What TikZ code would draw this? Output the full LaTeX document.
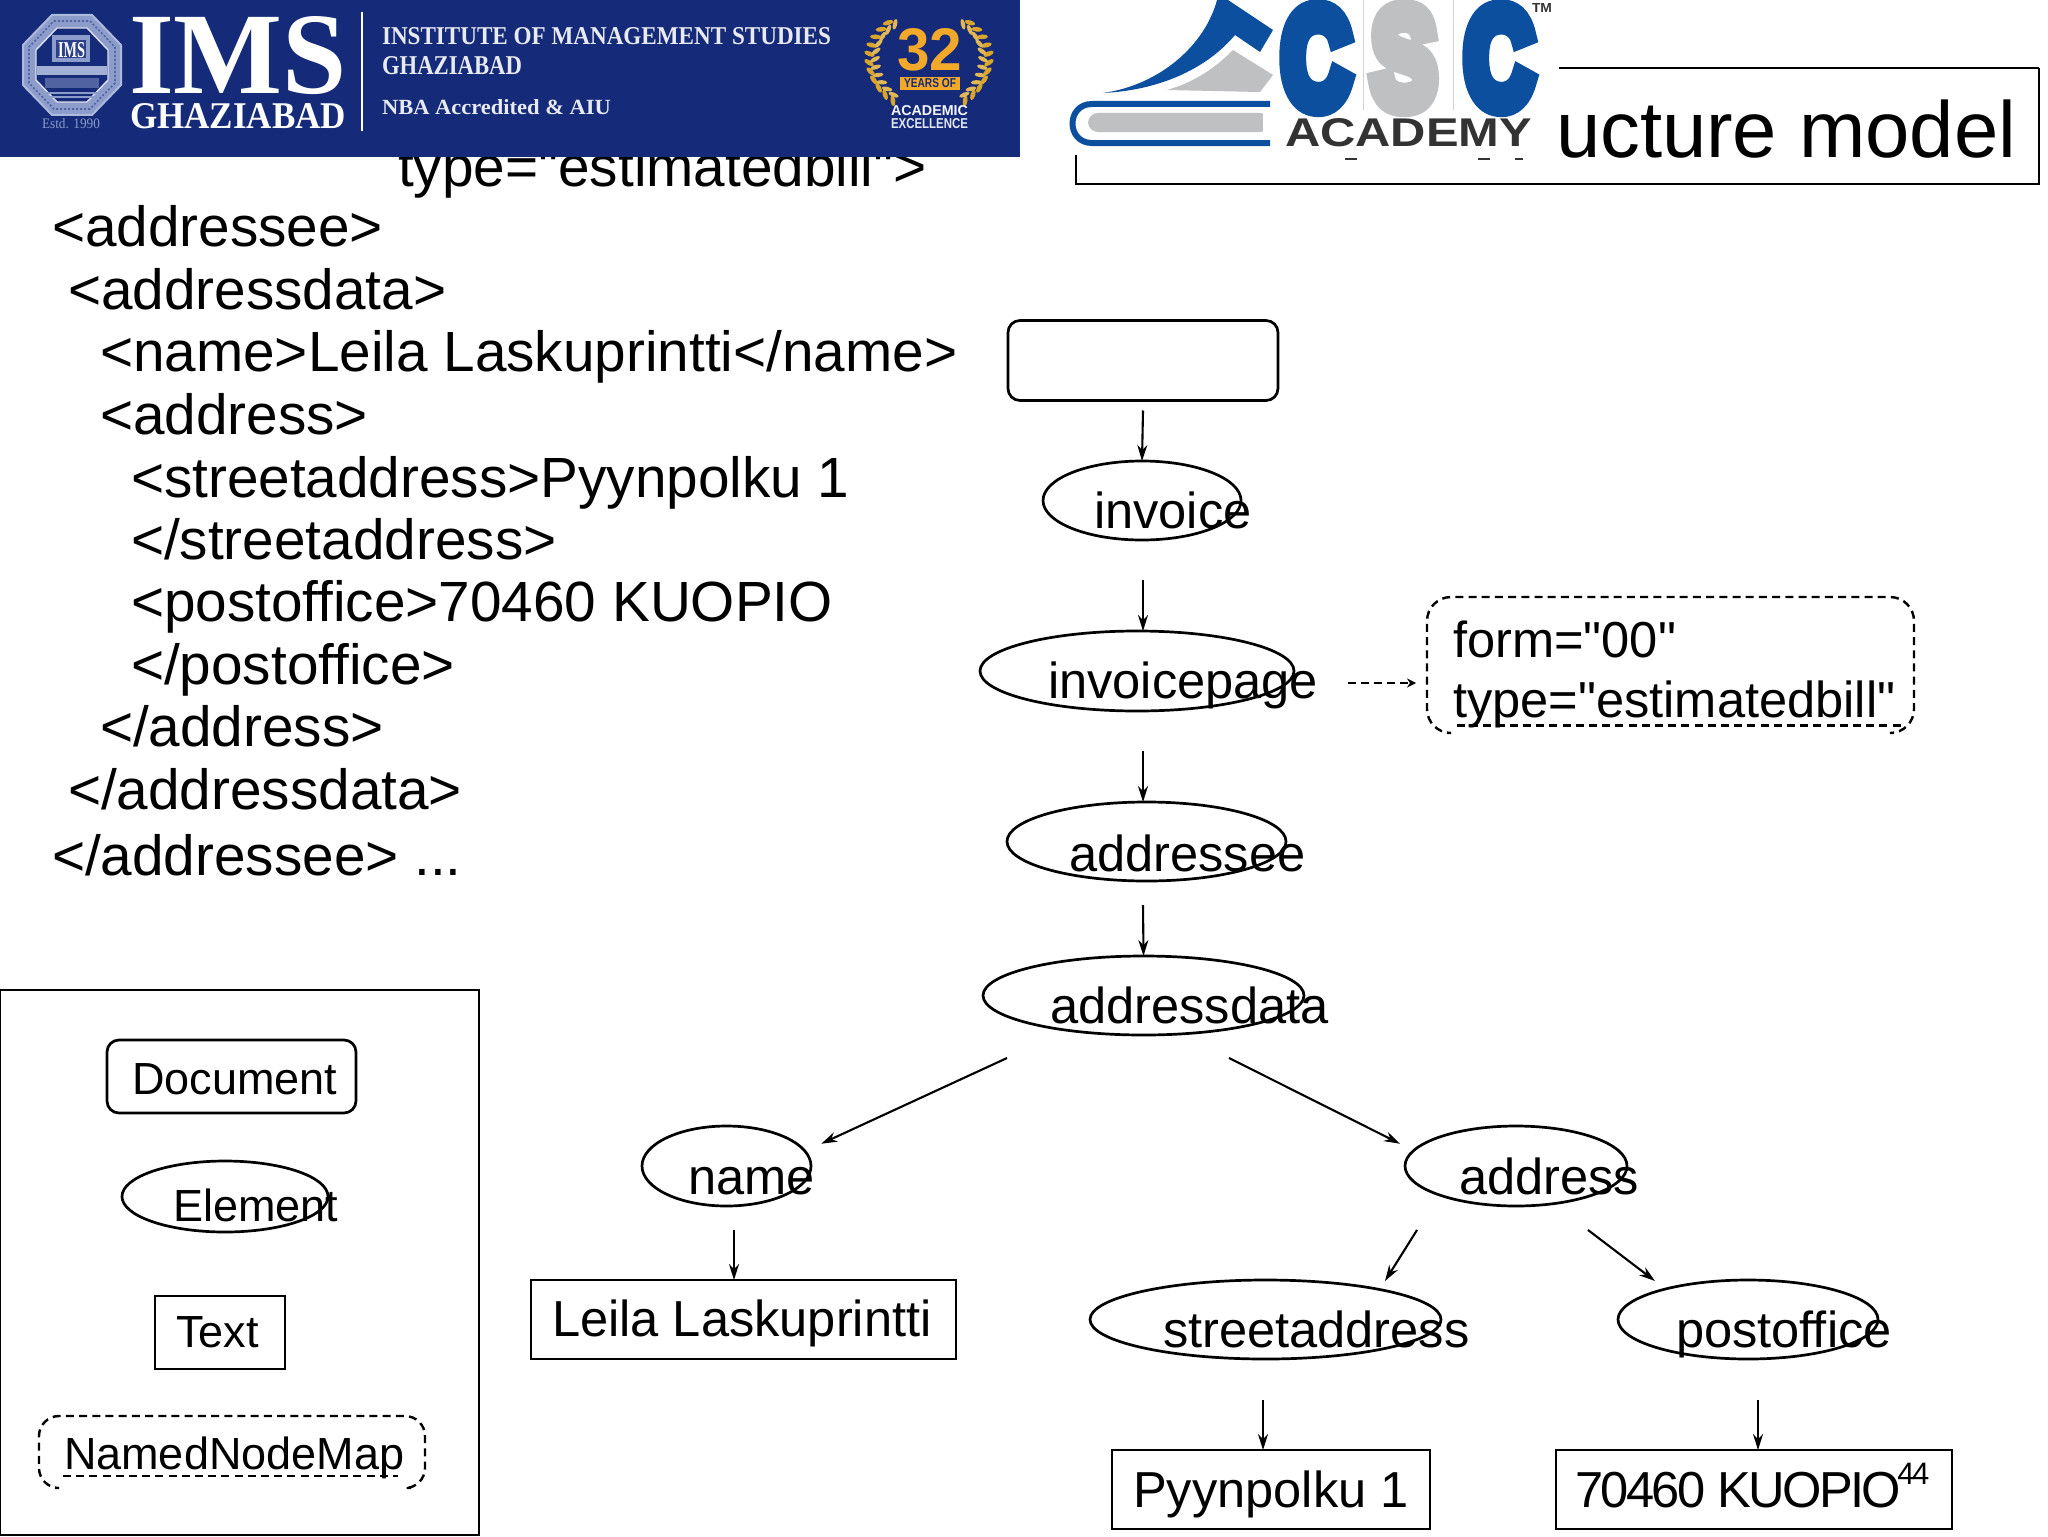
\documentclass[tikz,border=0pt]{standalone}
\usepackage{fontspec}
\usepackage{graphicx}
\usetikzlibrary{shapes.geometric,arrows.meta}
\setmainfont{Liberation Sans}[Ligatures=NoCommon]
\newfontfamily\pl{Liberation Sans}
\newfontfamily\lserif{Liberation Serif}
\newfontfamily\cscfont{Liberation Sans}[BoldFeatures={FakeBold=14}]
\definecolor{imsblue}{HTML}{152A78}
\definecolor{imsgold}{HTML}{D9A62B}
\definecolor{imsorange}{HTML}{F2A92A}
\definecolor{cscblue}{HTML}{0B4F9E}
\definecolor{cscgrey}{HTML}{BFC0C2}
\definecolor{csctext}{HTML}{333333}
\definecolor{sealring}{HTML}{8C9CCB}
\newcommand{\fitnode}[7]{\node[inner sep=0pt,outer sep=0pt,anchor=north west,text=#6] (#1) at (#2,#3) {\resizebox{\dimexpr#4pt/2\relax}{\dimexpr#5pt/2\relax}{#7}};}
\tikzset{
  ln/.style={line width=1.35pt,draw=black},
  arr/.style={line width=1.05pt,draw=black,-{Stealth[length=8pt,width=5pt]}},
  darr/.style={line width=1.2pt,draw=black,dash pattern=on 4pt off 2.5pt,-{Stealth[length=4.5pt,width=4.5pt]}},
  dsh/.style={line width=1.2pt,draw=black,dash pattern=on 4pt off 2.6pt},
  code/.style={inner sep=0pt,outer sep=0pt,anchor=base west,font=\pl\fontsize{28.35}{28.35}\selectfont},
  lab/.style={inner sep=0pt,outer sep=0pt,anchor=base west,font=\pl\fontsize{25.3}{25.3}\selectfont},
  leg/.style={inner sep=0pt,outer sep=0pt,anchor=base west,font=\pl\fontsize{22.5}{22.5}\selectfont},
  elem/.style={ellipse,ln,inner sep=0pt,outer sep=0pt},
  docbox/.style={rectangle,rounded corners=6pt,ln,inner sep=0pt,outer sep=0pt},
  textbox/.style={rectangle,ln,inner sep=0pt,outer sep=0pt},
  mapbox/.style={rectangle,inner sep=0pt,outer sep=0pt},
}
\begin{document}
\begin{tikzpicture}[x=0.5pt,y=-0.5pt]
\useasboundingbox (0,0) rectangle (2048,1536);
\fill[white] (0,0) rectangle (2048,1536);

% code text
\node[code] (c0) at (398,186) {type="estimatedbill">};
\node[code] (c1) at (52,246) {<addressee>};
\node[code] (c2) at (68,309) {<addressdata>};
\node[code] (c3) at (100,371) {<name>Leila Laskuprintti</name>};
\node[code] (c4) at (100,434) {<address>};
\node[code] (c5) at (131,497) {<streetaddress>Pyynpolku 1};
\node[code] (c6) at (131,559) {</streetaddress>};
\node[code] (c7) at (131,621) {<postoffice>70460 KUOPIO};
\node[code] (c8) at (131,684) {</postoffice>};
\node[code] (c9) at (100,746) {</address>};
\node[code] (c10) at (68,809) {</addressdata>};
\node[code] (c11) at (52,875) {</addressee> ...};

% title box
\draw[ln] (2039,68) -- (2039,184) -- (1076,184) -- (1076,155);
\node[inner sep=0pt,outer sep=0pt,anchor=base west,font=\pl\fontsize{39.8}{39.8}\selectfont] (title) at (1556,157) {ucture model};

% IMS banner
\fill[imsblue] (0,0) rectangle (1020,157);
\draw[ln] (1559,68) -- (2039,68);
\fitnode{ims}{129}{17}{218}{77}{white}{\lserif\bfseries IMS}
\fitnode{ghz}{130}{103}{216}{25}{white}{\lserif\bfseries GHAZIABAD}
\draw[white,line width=1pt] (362,12) -- (362,131);
\fitnode{inst}{382}{28}{449}{17}{white!90!imsblue}{\lserif\bfseries INSTITUTE OF MANAGEMENT STUDIES}
\fitnode{ghz2}{382}{57}{140}{18}{white!90!imsblue}{\lserif\bfseries GHAZIABAD}
\fitnode{nba}{382}{100}{229}{15}{white!90!imsblue}{\lserif\bfseries NBA Accredited \& AIU}
% seal
\draw[sealring!70!white,line width=1pt,fill=sealring] (52,15) -- (92,15) -- (121,45) -- (121,85) -- (92,115) -- (52,115) -- (23,85) -- (23,45) -- cycle;
\draw[white!85!imsblue,line width=0.7pt,fill=imsblue] (57,28) -- (87,28) -- (108,50) -- (108,80) -- (87,102) -- (57,102) -- (36,80) -- (36,50) -- cycle;
\draw[imsblue!50!sealring,line width=0.8pt,dash pattern=on 1pt off 1pt] (54,21) -- (90,21) -- (115,47) -- (115,83) -- (90,109) -- (54,109) -- (29,83) -- (29,47) -- cycle;
\fill[sealring] (52,35) rectangle (90,62);
\fill[imsblue!80!sealring] (56,40) rectangle (86,58);
\fitnode{simg}{58}{43}{27}{15}{white}{\lserif\bfseries IMS}
\fill[sealring!80!white] (37,66) rectangle (107,75);
\fill[imsblue!50!sealring] (45,78) rectangle (99,88);
\fill[sealring] (44,92) rectangle (100,94);
\fill[sealring] (50,96) rectangle (94,98);
\fitnode{estd}{42}{118}{58}{10}{sealring}{\lserif Estd. 1990}
% badge
\foreach \a in {127,137,...,233}{
  \fill[imsgold,shift={({929+60*cos(\a)},{60+51*sin(\a)})},rotate=\a+60] (0,0) ellipse (2.4 and 5.5);
  \fill[imsgold!80!white,shift={({929+54*cos(\a+4)},{60+46*sin(\a+4)})},rotate=\a+120] (0,0) ellipse (2.2 and 5.5);
}
\foreach \a in {53,43,...,-53}{
  \fill[imsgold,shift={({929+60*cos(\a)},{60+51*sin(\a)})},rotate=\a-60] (0,0) ellipse (2.4 and 5.5);
  \fill[imsgold!80!white,shift={({929+54*cos(\a-4)},{60+46*sin(\a-4)})},rotate=\a-120] (0,0) ellipse (2.2 and 5.5);
}
\fitnode{n32}{897}{28}{65}{42}{imsorange}{\bfseries 32}
\fill[imsorange] (900,77) rectangle (960,90);
\fitnode{yrs}{904}{79}{52}{9}{imsblue}{\bfseries YEARS OF}
\fitnode{acd}{891}{105}{77}{10}{white!90!sealring}{\bfseries ACADEMIC}
\fitnode{exc}{891}{118}{77}{10}{white!75!sealring}{\bfseries EXCELLENCE}

% CSC logo
\fill[cscblue] (1103,93) .. controls (1160,85) and (1205,45) .. (1217,0) -- (1228,0) -- (1273,30) -- (1260,52) -- (1235,35) .. controls (1210,65) and (1165,90) .. (1103,93) -- cycle;
\fill[cscgrey] (1167,90) .. controls (1195,82) and (1215,68) .. (1233,50) -- (1273,75) -- (1260,92) -- cycle;
\draw[cscblue,line width=3pt] (1270,104) -- (1092,104) .. controls (1066,104) and (1066,143) .. (1092,143) -- (1270,143);
\fill[cscgrey,rounded corners=5pt] (1088,113) rectangle (1270,132);
\fill[white] (1263,110) rectangle (1272,135);
\draw[cscgrey!70!white,line width=0.5pt] (1363,0) -- (1363,110);
\draw[cscgrey!70!white,line width=0.5pt] (1453,0) -- (1453,110);
\fitnode{cc1}{1282}{9}{68}{97}{cscblue}{\cscfont\bfseries C}
\fitnode{cc2}{1372}{9}{64}{97}{cscgrey}{\cscfont\bfseries S}
\fitnode{cc3}{1465}{9}{68}{97}{cscblue}{\cscfont\bfseries C}
\fitnode{acad}{1285}{119}{247}{28}{csctext}{\bfseries ACADEMY}
\fitnode{tm}{1532}{4}{20}{9}{csctext}{\bfseries TM}
\fill[csctext] (1345,158) rectangle (1357,160);
\fill[csctext] (1478,158) rectangle (1490,160);
\fill[csctext] (1515,158) rectangle (1523,160);

% tree shapes
\node[docbox,minimum width=270*0.5pt,minimum height=80*0.5pt] (doc) at (1143,360.5) {};
\node[elem,minimum width=198*0.5pt,minimum height=79*0.5pt] (inv) at (1142,500.5) {};
\node[elem,minimum width=314*0.5pt,minimum height=80*0.5pt] (ipage) at (1137,671) {};
\node[elem,minimum width=279*0.5pt,minimum height=79*0.5pt] (asee) at (1146.5,841.5) {};
\node[elem,minimum width=321*0.5pt,minimum height=79*0.5pt] (adata) at (1143.5,995.5) {};
\node[elem,minimum width=169*0.5pt,minimum height=80*0.5pt] (nm) at (726.5,1166) {};
\node[elem,minimum width=222*0.5pt,minimum height=80*0.5pt] (addr) at (1516,1166) {};
\node[elem,minimum width=351*0.5pt,minimum height=79*0.5pt] (street) at (1265.5,1319.5) {};
\node[elem,minimum width=260*0.5pt,minimum height=79*0.5pt] (post) at (1748,1319.5) {};
\node[textbox,minimum width=425*0.5pt,minimum height=79*0.5pt] (leila) at (743.5,1319.5) {};
\node[textbox,minimum width=318*0.5pt,minimum height=79*0.5pt] (pyyn) at (1271,1489.5) {};
\node[textbox,minimum width=396*0.5pt,minimum height=79*0.5pt] (kuo) at (1754,1489.5) {};
\node[mapbox,minimum width=487*0.5pt,minimum height=136*0.5pt] (attrs) at (1670.5,665) {};
\draw[dsh,rounded corners=12pt] ([shift={(20,0)}]attrs.south west) -- (attrs.south west) -- (attrs.north west) -- (attrs.north east) -- (attrs.south east) -- ([shift={(-18,0)}]attrs.south east);
\draw[dsh,line width=1.5pt] ([shift={(30,-8)}]attrs.south west) -- ([shift={(-12,-8)}]attrs.south east);

% tree labels
\node[lab] (tinv) at (1094,528) {invoice};
\node[lab] (tipage) at (1048,698) {invoicepage};
\node[lab] (tasee) at (1069,871) {addressee};
\node[lab] (tadata) at (1050,1023) {addressdata};
\node[lab] (tnm) at (688,1194) {name};
\node[lab] (taddr) at (1459,1194) {address};
\node[lab] (tstreet) at (1163,1347) {streetaddress};
\node[lab] (tpost) at (1676,1347) {postoffice};
\node[lab] (tleila) at (552,1336) {Leila Laskuprintti};
\node[lab] (tpyyn) at (1133,1507) {Pyynpolku 1};
\node[lab,font=\pl\fontsize{25.3}{25.3}\selectfont\addfontfeature{LetterSpace=-5}] (tkuo) at (1575,1507) {70460 KUOPIO};
\node[inner sep=0pt,anchor=base west,font=\pl\fontsize{15.5}{15.5}\selectfont\addfontfeature{LetterSpace=-8}] (pg) at (1897,1484) {44};
\node[lab] (tform) at (1453,657) {form="00"};
\node[lab] (ttype) at (1453,717) {type="estimatedbill"};

% tree connectors
\draw[arr] ([shift={(0,10)}]doc.south) -- (inv.north);
\draw[arr] ([shift={(1,40)}]inv.south) -- ([shift={(6,0)}]ipage.north);
\draw[arr] ([shift={(6,40)}]ipage.south) -- ([shift={(-3.5,0)}]asee.north);
\draw[arr] ([shift={(-3.5,24)}]asee.south) -- ([yshift=0pt]adata.north);
\draw[darr] ([shift={(54,12)}]ipage.east) -- ([shift={(-11,18)}]attrs.west);
\draw[arr] ([shift={(-136.5,23)}]adata.south) -- ([shift={(35,6)}]nm.north east);
\draw[arr] ([shift={(85.5,23)}]adata.south) -- ([shift={(-37.5,6)}]addr.north west);
\draw[arr] ([shift={(7.5,24)}]nm.south) -- ([shift={(-9.5,0)}]leila.north);
\draw[arr] ([shift={(-99,24)}]addr.south) -- ([shift={(119.5,1)}]street.north);
\draw[arr] ([shift={(72,24)}]addr.south) -- ([shift={(-93,1)}]post.north);
\draw[arr] ([shift={(-2.5,41)}]street.south) -- ([shift={(-8,0)}]pyyn.north);
\draw[arr] ([shift={(10,41)}]post.south) -- ([shift={(4,0)}]kuo.north);

% legend
\draw[ln] (0,990) -- (479,990) -- (479,1535) -- (0,1535) -- cycle;
\node[docbox,minimum width=249*0.5pt,minimum height=73*0.5pt] (ldoc) at (231.5,1076.5) {};
\node[leg] (tldoc) at (132,1094) {Document};
\node[elem,minimum width=206*0.5pt,minimum height=71*0.5pt] (lel) at (225,1196.5) {};
\node[leg] (tlel) at (173,1221) {Element};
\node[textbox,minimum width=130*0.5pt,minimum height=73*0.5pt] (ltxt) at (220,1332.5) {};
\node[leg] (tltxt) at (176,1347) {Text};
\node[mapbox,minimum width=386*0.5pt,minimum height=72*0.5pt] (lmap) at (232,1452) {};
\draw[dsh,rounded corners=10pt] ([shift={(16,0)}]lmap.south west) -- (lmap.south west) -- (lmap.north west) -- (lmap.north east) -- (lmap.south east) -- ([shift={(-14,0)}]lmap.south east);
\draw[dsh] ([shift={(24,-12)}]lmap.south west) -- ([shift={(-27,-12)}]lmap.south east);
\node[leg] (tlmap) at (64,1469) {NamedNodeMap};
\end{tikzpicture}
\end{document}
